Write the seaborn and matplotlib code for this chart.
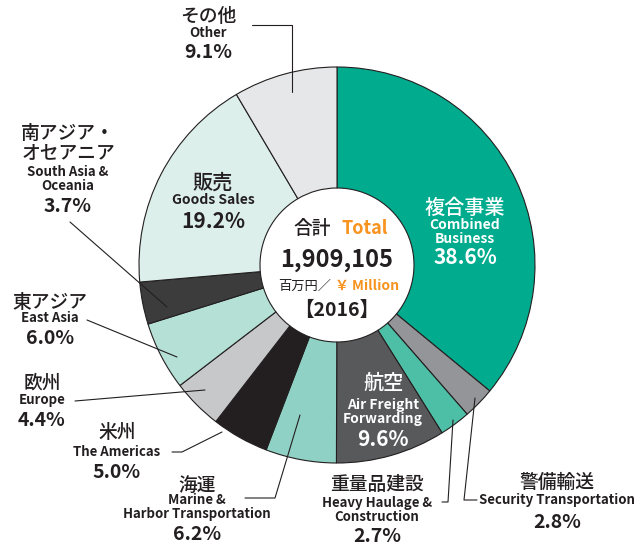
import matplotlib.pyplot as plt
import seaborn as sns

# データ
labels_ja = ['複合事業', '警備輸送', '重量品建設', '航空', '海運', '米州',
             '欧州', '東アジア', '南アジア・\nオセアニア', '販売', 'その他']
labels_en = ['Combined\nBusiness', 'Security Transportation', 'Heavy Haulage &\nConstruction',
             'Air Freight\nForwarding', 'Marine &\nHarbor Transportation', 'The Americas',
             'Europe', 'East Asia', 'South Asia &\nOceania', 'Goods Sales', 'Other']
shares = [38.6, 2.8, 2.7, 9.6, 6.2, 5.0, 4.4, 6.0, 3.7, 19.2, 9.1]
colors = ['#00ab8e', '#939598', '#4dbfa6', '#58595b', '#8fd1c4', '#231f20',
          '#c7c8ca', '#b5e0d6', '#3c3c3c', '#dcefea', '#e6e7e8']
total_value = '1,909,105'
year = '2016'

sns.set_theme(style='white')
plt.rcParams['font.family'] = ['Noto Sans CJK JP', 'DejaVu Sans']

W, H = 636, 550
fig = plt.figure(figsize=(W / 100, H / 100), dpi=100)
ax = fig.add_axes([0, 0, 1, 1])

cx, cy, R, r_in = 337, H - 265, 198, 77
ax.pie(shares, colors=colors, startangle=90, counterclock=False,
       center=(cx, cy), radius=R,
       wedgeprops=dict(width=R - r_in, edgecolor='#231f20', linewidth=0.8))
ax.set_xlim(0, W)
ax.set_ylim(0, H)
ax.set_aspect('equal')
ax.axis('off')

dark = '#231f20'
orange = '#f7931e'


def py(y):
    return H - y


def label(x, y_ja, y_en, y_pct, i, color=dark, ja_size=13.5, en_size=9.5, pct_size=14):
    ax.text(x, py(y_ja), labels_ja[i], ha='center', va='center', fontsize=ja_size,
            color=color, fontweight='medium', linespacing=1.0)
    ax.text(x, py(y_en), labels_en[i], ha='center', va='center', fontsize=en_size,
            color=color, fontweight='bold', linespacing=0.95)
    ax.text(x, py(y_pct), f'{shares[i]:.1f}%', ha='center', va='center',
            fontsize=pct_size, color=color, fontweight='bold')


def leader(pts):
    ax.plot([p[0] for p in pts], [py(p[1]) for p in pts], color=dark, lw=0.8)


# ラベル
label(465, 208, 232, 258, 0, color='white', ja_size=14.5, en_size=10, pct_size=15)
label(557, 482, 500, 522, 1)
label(377, 485, 510, 537, 2)
label(383, 383, 412, 440, 3, color='white', ja_size=14.5, en_size=10, pct_size=15)
label(197, 485, 507, 535, 4)
label(117, 433, 452, 472, 5)
label(42, 383, 400, 421, 6)
label(50, 302, 318, 339, 7)
label(68, 143, 179, 207, 8)
label(213, 183, 200, 222, 9, ja_size=14.5, en_size=10, pct_size=15)
label(208, 17, 33, 53, 10)

# 引き出し線
leader([(252, 25), (292, 25), (292, 92)])
leader([(70, 222), (167, 307)])
leader([(87, 320), (177, 357)])
leader([(75, 401), (205, 390)])
leader([(172, 452), (182, 452), (222, 432)])
leader([(245, 498), (275, 498), (300, 415)])
leader([(442, 502), (448, 502), (453, 420)])
leader([(477, 500), (464, 500), (475, 398)])

# 中央
ax.text(312, py(228), '合計', ha='center', va='center', fontsize=13.5, color=dark, fontweight='medium')
ax.text(365, py(228), 'Total', ha='center', va='center', fontsize=13, color=orange,
        fontweight='bold')
ax.text(cx, py(260), total_value, ha='center', va='center', fontsize=17, color=dark,
        fontweight='bold')
ax.text(305, py(286), '百万円／', ha='center', va='center', fontsize=9.5, color=dark)
ax.text(367, py(286), '￥ Million', ha='center', va='center', fontsize=10, color=orange,
        fontweight='bold')
ax.text(cx, py(310), f'【{year}】', ha='center', va='center', fontsize=14, color=dark,
        fontweight='bold')

fig.savefig('out.png', dpi=100)
